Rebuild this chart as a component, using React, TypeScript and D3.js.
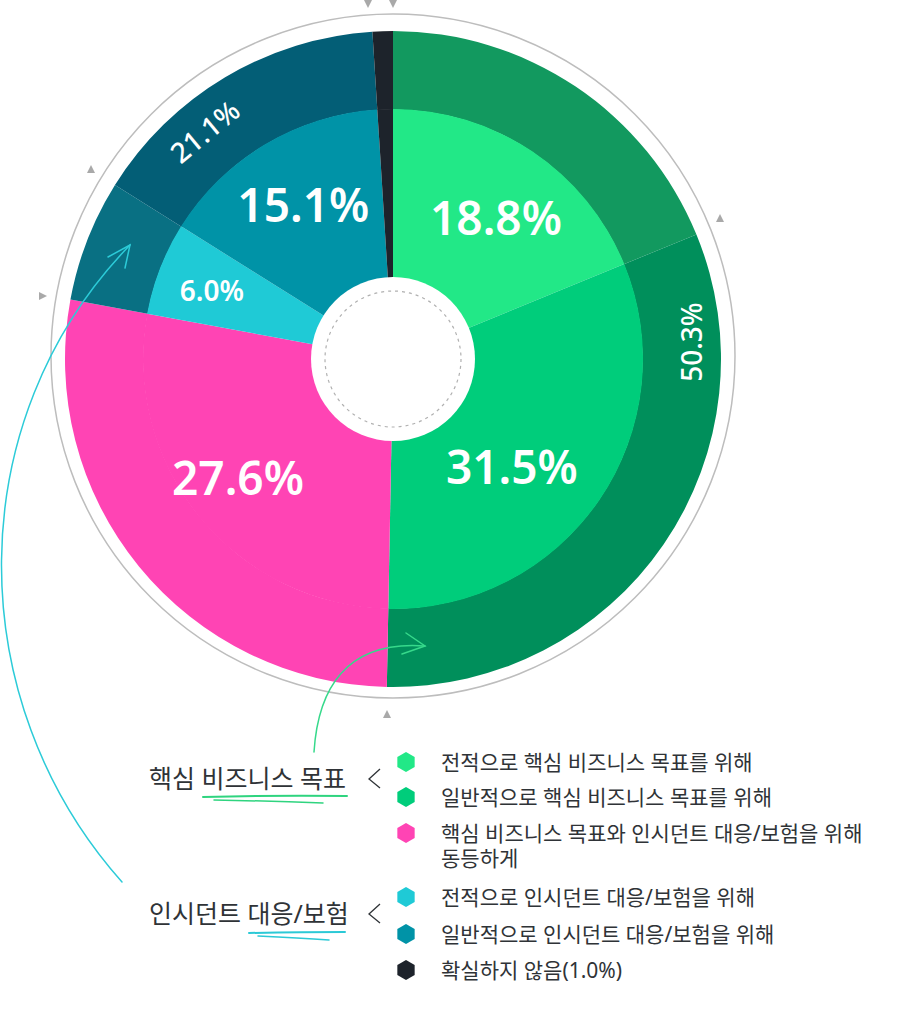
import React from 'react';
import * as d3 from 'd3';

const categories = [
  '전적으로 핵심 비즈니스 목표를 위해',
  '일반적으로 핵심 비즈니스 목표를 위해',
  '핵심 비즈니스 목표와 인시던트 대응/보험을 위해|동등하게',
  '전적으로 인시던트 대응/보험을 위해',
  '일반적으로 인시던트 대응/보험을 위해',
  '확실하지 않음(1.0%)',
];
const values = [18.8, 31.5, 27.6, 6.0, 15.1, 1.0];
const innerColors = ['#22e887', '#00cd7b', '#ff44b4', '#1fcad6', '#0093a7', '#1d232b'];
const outerColors = ['#12995f', '#008f5b', '#ff44b4', '#097083', '#035e76', '#1d232b'];
const innerLabels = ['18.8%', '31.5%', '27.6%', '6.0%', '15.1%', ''];
const groupNames = ['핵심 비즈니스 목표', '인시던트 대응/보험'];
const groupLabels = ['50.3%', '21.1%'];
const groupColors = ['#2fd47f', '#2bc9d6'];

const W = 900, H = 1012;
const cx = 393, cy = 359;
const rHole = 82, rInner = 250, rOuter = 328;
// per-slice label layout
const labelR = [175, 160, 195, 194, 179];
const labelDA = [2.2, 7.6, 1.9, -0.3, 0.7];
const labelSize = [46, 46, 46, 28, 46];

const hexPath = (x: number, y: number, r: number) => {
  const pts = d3.range(6).map(i => {
    const a = Math.PI / 3 * i;
    return [x + r * Math.sin(a), y - r * Math.cos(a)];
  });
  return 'M' + pts.map(p => p.join(',')).join('L') + 'Z';
};

export default function App() {
  const pie = d3.pie<number>().sort(null).value(d => d);
  const arcs = pie(values);
  const innerArc = d3.arc<any>().innerRadius(0).outerRadius(rInner);
  const outerArc = d3.arc<any>().innerRadius(rInner - 0.5).outerRadius(rOuter);
  const rad = Math.PI / 180;

  const pos = (angle: number, r: number) => [cx + r * Math.sin(angle), cy - r * Math.cos(angle)];

  const g1End = arcs[1].endAngle; // 50.3%
  const g2Start = arcs[3].startAngle, g2End = arcs[4].endAngle; // 21.1%
  const a503 = (arcs[0].startAngle + g1End) / 2 - 3.8 * rad;
  const p503 = pos(a503, 298);
  const a211 = (g2Start + g2End) / 2 + 2 * rad;
  const p211 = pos(a211, 296);

  const legendY = [762, 797, 833, 897, 934, 970];
  const font = "'Noto Sans', 'Noto Sans CJK KR', sans-serif";
  const tri = (x: number, y: number, dir: string) => {
    const s = 4;
    if (dir === 'down') return `M${x - s},${y - s}L${x + s},${y - s}L${x},${y + s}Z`;
    if (dir === 'up') return `M${x - s},${y + s}L${x + s},${y + s}L${x},${y - s}Z`;
    return `M${x - s},${y - s}L${x - s},${y + s}L${x + s},${y}Z`;
  };

  return (
    <svg width={W} height={H} style={{ position: 'absolute', left: 0, top: 0, fontFamily: font }}>
      <rect width={W} height={H} fill="#fff" />
      <circle cx={cx} cy={356} r={342} fill="none" stroke="#bdbdbd" strokeWidth={1.5} />
      <g transform={`translate(${cx},${cy})`}>
        {arcs.map((a, i) => (
          <path key={'o' + i} d={outerArc(a) as string} fill={outerColors[i]} />
        ))}
        {arcs.map((a, i) => (
          <path key={'i' + i} d={innerArc(a) as string} fill={innerColors[i]} />
        ))}
      </g>
      <circle cx={cx} cy={cy} r={rHole} fill="#fff" />
      <circle cx={cx} cy={cy} r={68} fill="none" stroke="#b0b0b0" strokeWidth={1.2} strokeDasharray="3 4" />
      {arcs.map((a, i) => {
        if (!innerLabels[i]) return null;
        const mid = (a.startAngle + a.endAngle) / 2 + labelDA[i] * rad;
        const [x, y] = pos(mid, labelR[i]);
        return (
          <text key={'l' + i} x={x} y={y} fill="#fff" fontSize={labelSize[i]} fontWeight={600}
            textAnchor="middle" dominantBaseline="central">{innerLabels[i]}</text>
        );
      })}
      <text x={p503[0]} y={p503[1]} fill="#fff" fontSize={28} fontWeight={500} textAnchor="middle"
        dominantBaseline="central" transform={`rotate(-90,${p503[0]},${p503[1]})`}>{groupLabels[0]}</text>
      <text x={p211[0]} y={p211[1]} fill="#fff" fontSize={28} fontWeight={500} textAnchor="middle"
        dominantBaseline="central" transform={`rotate(${(a211 / rad) - 360},${p211[0]},${p211[1]})`}>{groupLabels[1]}</text>

      <g fill="#a9a9a9">
        <path d={tri(368, 4, 'down')} />
        <path d={tri(393, 4, 'down')} />
        <path d={tri(720, 218, 'up')} />
        <path d={tri(387, 714, 'up')} />
        <path d={tri(91, 169, 'up')} />
        <path d={tri(43, 296, 'right')} />
      </g>

      <g fill="none" strokeLinecap="round" strokeWidth={1.5}>
        <path d="M314,752 C318,690 345,640 425,646" stroke="#36d98b" />
        <path d="M406,633 L425,646 L402,654" stroke="#36d98b" />
        <path d="M122,882 C-40,700 -40,420 130,245" stroke="#2ccbd8" />
        <path d="M108,257 L130,245 L125,268" stroke="#2ccbd8" />
      </g>

      {groupNames.map((g, gi) => {
        const y = gi === 0 ? 778 : 913;
        return (
          <g key={'g' + gi}>
            <text x={149} y={y} fill="#2f3337" fontSize={25} dominantBaseline="central">{g}</text>
            <path d={`M380,${y - 9} L369,${y + 1} L380,${y + 10}`} fill="none" stroke="#2f3337" strokeWidth={1.3} />
          </g>
        );
      })}
      <g fill="none" strokeLinecap="round">
        <path d="M203,797 Q280,795 347,796" stroke={groupColors[0]} strokeWidth={2} />
        <path d="M214,800 Q270,801 323,803" stroke={groupColors[0]} strokeWidth={1.5} />
        <path d="M249,933 Q300,932 345,932" stroke={groupColors[1]} strokeWidth={2} />
        <path d="M258,936 Q300,938 329,940" stroke={groupColors[1]} strokeWidth={1.5} />
      </g>

      {categories.map((c, i) => {
        const lines = c.split('|');
        return (
          <g key={'lg' + i}>
            <path d={hexPath(406, legendY[i], 10)} fill={innerColors[i]} />
            {lines.map((l, j) => (
              <text key={j} x={441} y={legendY[i] + j * 25} fill="#2f3337" fontSize={21}
                dominantBaseline="central">{l}</text>
            ))}
          </g>
        );
      })}
    </svg>
  );
}
